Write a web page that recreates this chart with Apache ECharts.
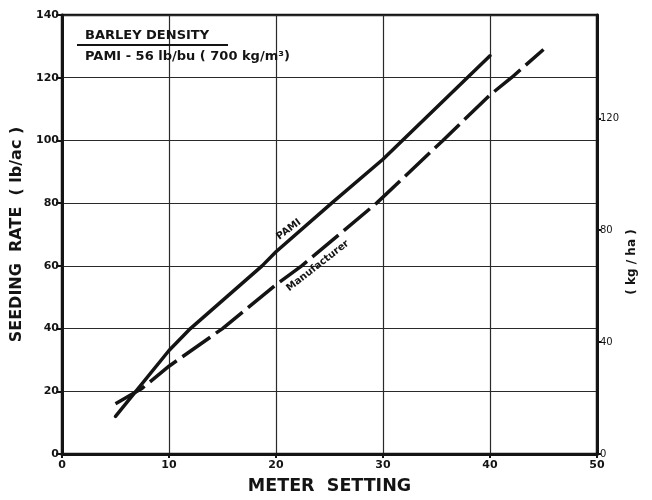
<!DOCTYPE html>
<html>
<head>
<meta charset="utf-8">
<script src="https://cdn.jsdelivr.net/npm/echarts@6/dist/echarts.min.js"></script>
<style>
html,body{margin:0;padding:0;background:#fff;}
#c{width:652px;height:500px;}
</style>
</head>
<body>
<div id="c"></div>
<script>
// ---- data ----
const pamiX = [5, 10, 12, 18.7, 20, 25.2, 30, 35, 40];
const pamiY = [12, 33, 40, 60, 64.5, 80, 94, 110.5, 127];
const manuX = [5, 7.5, 10, 15, 20, 22.4, 29.4, 35.6, 40, 42, 45];
const manuY = [16, 21, 28, 40, 54, 60, 80, 100, 114.5, 120, 129];
const xTicks = [0, 10, 20, 30, 40, 50];
const yTicks = [0, 20, 40, 60, 80, 100, 120, 140];
const kgTicks = [0, 40, 80, 120];
const LB_AC_TO_KG_HA = 1.12085;
const titleLine1 = 'BARLEY DENSITY';
const titleLine2 = 'PAMI - 56 lb/bu ( 700 kg/m³)';
const seriesNames = ['PAMI', 'Manufacturer'];

const ink = '#141414';
const font = '"DejaVu Sans", "Liberation Sans", sans-serif';

const chart = echarts.init(document.getElementById('c'), null, {renderer: 'canvas'});

const zip = (xs, ys) => xs.map((x, i) => [x, ys[i]]);

const option = {
  backgroundColor: '#ffffff',
  animation: false,
  grid: {left: 62, right: 55, top: 15, bottom: 45, show: true, borderColor: ink, borderWidth: 2.5},
  xAxis: {
    type: 'value', min: xTicks[0], max: xTicks[xTicks.length - 1], interval: 10,
    name: 'METER  SETTING', nameLocation: 'middle', nameGap: 23,
    nameTextStyle: {fontFamily: font, fontWeight: 'bold', fontSize: 17.5, color: ink},
    axisLine: {show: true, lineStyle: {color: ink, width: 3}},
    axisTick: {show: true, length: 4, lineStyle: {color: ink, width: 2}},
    axisLabel: {fontFamily: font, fontWeight: 'bold', fontSize: 11, color: ink, margin: 6},
    splitLine: {show: true, lineStyle: {color: '#2a2a2a', width: 1.2}}
  },
  yAxis: [{
    type: 'value', min: yTicks[0], max: yTicks[yTicks.length - 1], interval: 20,
    name: 'SEEDING  RATE  ( lb/ac )', nameLocation: 'middle', nameGap: 32, nameRotate: 90,
    nameTextStyle: {fontFamily: font, fontWeight: 'bold', fontSize: 16, color: ink},
    axisLine: {show: true, lineStyle: {color: ink, width: 3}},
    axisTick: {show: true, length: 6, lineStyle: {color: ink, width: 2}},
    axisLabel: {fontFamily: font, fontWeight: 'bold', fontSize: 11, color: ink, margin: 3},
    splitLine: {show: true, lineStyle: {color: '#2a2a2a', width: 1.2}}
  }, {
    type: 'value', position: 'right', min: 0, max: yTicks[yTicks.length - 1] * LB_AC_TO_KG_HA, interval: 40,
    axisLine: {show: true, lineStyle: {color: ink, width: 3}},
    axisTick: {show: true, length: 4, lineStyle: {color: ink, width: 2},
      customValues: kgTicks},
    axisLabel: {fontFamily: font, fontSize: 10, color: ink, margin: 3,
      customValues: kgTicks},
    splitLine: {show: false}
  }],
  series: [{
    name: seriesNames[0], type: 'line', data: zip(pamiX, pamiY), showSymbol: false, symbol: 'none',
    lineStyle: {color: ink, width: 3.5, cap: 'round'}, z: 5
  }, {
    name: seriesNames[1], type: 'line', data: zip(manuX, manuY), showSymbol: false, symbol: 'none',
    lineStyle: {color: ink, width: 3.5, type: [34, 7]}, z: 5
  }]
};
chart.setOption(option);

// annotations placed relative to data coordinates
const p1 = chart.convertToPixel({gridIndex: 0}, [21.2, 71.6]);
const p2 = chart.convertToPixel({gridIndex: 0}, [23.9, 60]);
chart.setOption({
  graphic: [
    {type: 'text', x: 85, y: 35.5, style: {text: titleLine1, font: 'bold 13px ' + font, fill: ink, verticalAlign: 'middle'}},
    {type: 'line', shape: {x1: 77, y1: 45, x2: 228, y2: 45}, style: {stroke: ink, lineWidth: 2}},
    {type: 'text', x: 85, y: 57, style: {text: titleLine2, font: 'bold 13px ' + font, fill: ink, verticalAlign: 'middle'}},
    {type: 'text', x: p1[0], y: p1[1], rotation: 37 * Math.PI / 180,
      style: {text: seriesNames[0], font: 'bold 10px ' + font, fill: ink, align: 'center', verticalAlign: 'middle'}},
    {type: 'text', x: p2[0], y: p2[1], rotation: 38 * Math.PI / 180,
      style: {text: seriesNames[1], font: 'bold 10px ' + font, fill: ink, align: 'center', verticalAlign: 'middle'}},
    {type: 'text', x: 632, y: 262, rotation: Math.PI / 2,
      style: {text: '( kg / ha )', font: 'bold 12px ' + font, fill: ink, align: 'center', verticalAlign: 'middle'}}
  ]
});
</script>
</body>
</html>
